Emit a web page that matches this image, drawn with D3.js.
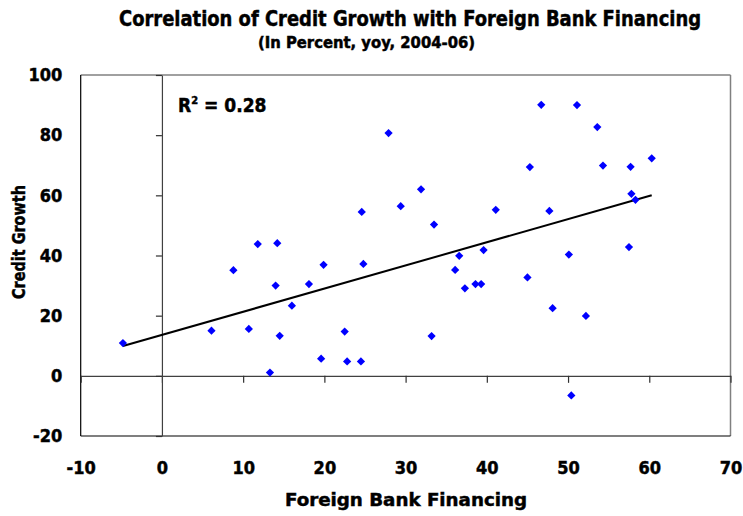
<!DOCTYPE html>
<html>
<head>
<meta charset="utf-8">
<script src="https://cdn.jsdelivr.net/npm/d3@7"></script>
<style>
  html, body { margin: 0; padding: 0; background: #fff; }
  svg { display: block; }
  text { font-family: "DejaVu Sans Condensed", "DejaVu Sans", Verdana, sans-serif; font-weight: bold; fill: #000; stroke: #000; stroke-width: 0.45px; }
</style>
</head>
<body>
<svg id="chart" width="743" height="516"></svg>
<script>
// ---- data ----
const foreignBankFinancing = [-4.8, 6.1, 8.8, 10.7, 11.8, 14.2, 14.0, 16.0, 14.5, 13.3, 18.1, 19.9, 24.8, 36.6, 39.6, 36.1, 37.3, 38.6, 39.3, 45.0, 22.5, 33.2, 19.6, 22.8, 24.5, 48.1, 50.1, 57.5, 52.2, 50.4, 27.9, 24.6, 29.4, 31.9, 33.5, 41.1, 45.3, 46.7, 47.7, 51.1, 53.6, 54.3, 57.7, 60.3, 57.8, 58.3];
const creditGrowth        = [10.9, 15.0, 35.1, 15.6, 43.8, 44.1, 30.0, 23.3, 13.3, 1.1, 30.5, 36.9, 37.2, 39.9, 41.8, 35.2, 29.1, 30.5, 30.5, 32.7, 14.7, 13.2, 5.7, 4.8, 4.8, 22.5, 40.3, 42.8, 19.9, -6.5, 80.7, 54.5, 56.4, 62.0, 50.3, 55.2, 69.4, 90.1, 54.8, 90.0, 82.7, 69.9, 69.5, 72.3, 60.5, 58.5];
const trendIntercept = [13.6];
const trendSlope = [0.77];
const rSquared = ["0.28"];
const xTicks = [-10, 0, 10, 20, 30, 40, 50, 60, 70];
const yTicks = [-20, 0, 20, 40, 60, 80, 100];
const titleText = "Correlation of Credit Growth with Foreign Bank Financing";
const subtitleText = "(In Percent, yoy, 2004-06)";
const xTitle = "Foreign Bank Financing";
const yTitle = "Credit Growth";

const points = foreignBankFinancing.map((v, i) => ({x: v, y: creditGrowth[i]}));

const svg = d3.select("#chart");
const L = 80.7, R = 730.5, T = 75, B = 436;
const x = d3.scaleLinear().domain([-10, 70]).range([L, R]);
const y = d3.scaleLinear().domain([-20, 100]).range([B, T]);

function fitText(sel, w) {
  sel.attr("textLength", w).attr("lengthAdjust", "spacingAndGlyphs");
}
const fmt = d => String(d);

// titles
svg.append("text").attr("x", 410).attr("y", 26).attr("text-anchor", "middle")
  .style("font-size", "21px").text(titleText).call(fitText, 582);
svg.append("text").attr("x", 366.5).attr("y", 48).attr("text-anchor", "middle")
  .style("font-size", "15px").text(subtitleText).call(fitText, 217);

// plot border
svg.append("line").attr("x1", L).attr("x2", R).attr("y1", T).attr("y2", T).attr("stroke", "#808080").attr("stroke-width", 1.5);
svg.append("line").attr("x1", R).attr("x2", R).attr("y1", T).attr("y2", B).attr("stroke", "#808080").attr("stroke-width", 1.5);
svg.append("line").attr("x1", L).attr("x2", L).attr("y1", T).attr("y2", B).attr("stroke", "#000").attr("stroke-width", 1.2);
svg.append("line").attr("x1", L).attr("x2", R).attr("y1", B).attr("y2", B).attr("stroke", "#000").attr("stroke-width", 1.2);

// zero axes with ticks
const xAxisG = svg.append("g").attr("transform", `translate(0,${y(0)})`)
  .call(d3.axisBottom(x).tickValues(xTicks).tickSize(7).tickSizeOuter(0).tickFormat(""));
xAxisG.select(".domain").attr("stroke", "#404040").attr("stroke-width", 1.2);
xAxisG.selectAll(".tick line").attr("stroke", "#303030").attr("stroke-width", 1.2);

const yAxisG = svg.append("g").attr("transform", `translate(${x(0)},0)`)
  .call(d3.axisLeft(y).tickValues(yTicks).tickSize(6).tickSizeOuter(0).tickFormat(""));
yAxisG.select(".domain").attr("stroke", "#404040").attr("stroke-width", 1.2);
yAxisG.selectAll(".tick line").attr("stroke", "#303030").attr("stroke-width", 1.2);

// tick labels
const xLab = svg.append("g").attr("transform", `translate(0,${B})`)
  .call(d3.axisBottom(x).tickValues(xTicks).tickSize(0).tickPadding(25).tickFormat(fmt));
xLab.select(".domain").remove();
xLab.selectAll("text").style("font-size", "18px").style("font-family", null).attr("fill", "#000");

const yLab = svg.append("g").attr("transform", `translate(${L},0)`)
  .call(d3.axisLeft(y).tickValues(yTicks).tickSize(0).tickPadding(18.5).tickFormat(fmt));
yLab.select(".domain").remove();
yLab.selectAll("text").style("font-size", "18px").style("font-family", null).attr("fill", "#000");

// axis titles
svg.append("text").attr("x", 406).attr("y", 506).attr("text-anchor", "middle")
  .style("font-size", "18px").text(xTitle).call(fitText, 242);
svg.append("text").attr("transform", "translate(25,242) rotate(-90)").attr("text-anchor", "middle")
  .style("font-size", "18px").text(yTitle).call(fitText, 114);

// trend line
const xs = d3.extent(foreignBankFinancing);
const line = d3.line().x(d => x(d)).y(d => y(trendIntercept[0] + trendSlope[0] * d));
svg.append("path").datum(xs).attr("d", line).attr("fill", "none").attr("stroke", "#000").attr("stroke-width", 2);

// points
const sym = d3.symbol().type(d3.symbolSquare).size(34);
svg.append("g").selectAll("path").data(points).join("path")
  .attr("d", sym)
  .attr("transform", d => `translate(${x(d.x)},${y(d.y)}) rotate(45)`)
  .attr("fill", "#0000FF");

// R^2 label
const r2 = svg.append("text").attr("x", 178).attr("y", 112).style("font-size", "19px");
r2.append("tspan").text("R");
r2.append("tspan").attr("dy", -8).style("font-size", "11px").text("2");
r2.append("tspan").attr("dy", 8).text(" = " + rSquared[0]);
</script>
</body>
</html>
